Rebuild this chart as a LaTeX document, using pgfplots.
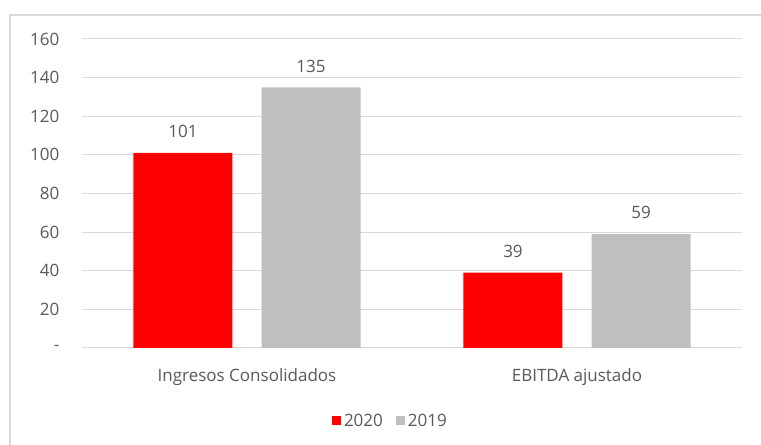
\documentclass[border=0pt]{standalone}
\usepackage{fontspec}
\setmainfont{Open Sans}
\usepackage{pgfplots}
\pgfplotsset{compat=1.18}
\definecolor{barred}{HTML}{FF0000}
\definecolor{bargray}{HTML}{BFBFBF}
\definecolor{gridgray}{HTML}{D9D9D9}
\definecolor{txtgray}{HTML}{595959}
\begin{document}
\begin{tikzpicture}
\useasboundingbox (0,0) rectangle (570.75pt,333.75pt);
\fill[white] (0,0) rectangle (570.75pt,333.75pt);
\draw[gridgray, line width=0.9pt] (7.5pt,-20pt) -- (7.5pt,322.5pt) -- (600pt,322.5pt);
\begin{axis}[
  at={(61.5pt,72.75pt)}, anchor=south west,
  width=495pt, height=231.75pt, scale only axis,
  xmin=-0.5, xmax=1.5, ymin=0, ymax=160,
  ytick={0,20,40,60,80,100,120,140,160},
  yticklabels={-,20,40,60,80,100,120,140,160},
  xtick={0,1},
  xticklabels={Ingresos Consolidados, EBITDA ajustado},
  ymajorgrids,
  grid style={color=gridgray, line width=0.75pt},
  axis line style={draw=none},
  major tick length=0pt,
  font=\fontsize{12.75pt}{15pt}\selectfont,
  yticklabel style={text=txtgray, anchor=east, xshift=-13.5pt},
  xticklabel style={text=txtgray, anchor=center, yshift=-21.5pt},
  /pgf/number format/assume math mode=true,
  nodes near coords,
  nodes near coords style={text=txtgray, anchor=center, yshift=16pt},
  legend style={draw=none, fill=none, at={(0.468,-0.236)}, anchor=center,
    legend columns=-1, text=txtgray,
    /tikz/every even column/.append style={column sep=8pt}},
  legend image code/.code={\fill[#1] (0pt,-3.4pt) rectangle (6.75pt,3.4pt);},
]
\addplot[ybar, bar width=0.3, bar shift=0pt, fill=barred, draw=none]
  coordinates {(-0.194,101) (0.806,39)};
\addplot[ybar, bar width=0.3, bar shift=0pt, fill=bargray, draw=none]
  coordinates {(0.194,135) (1.194,59)};
\legend{2020,2019}
\end{axis}
\end{tikzpicture}
\end{document}
